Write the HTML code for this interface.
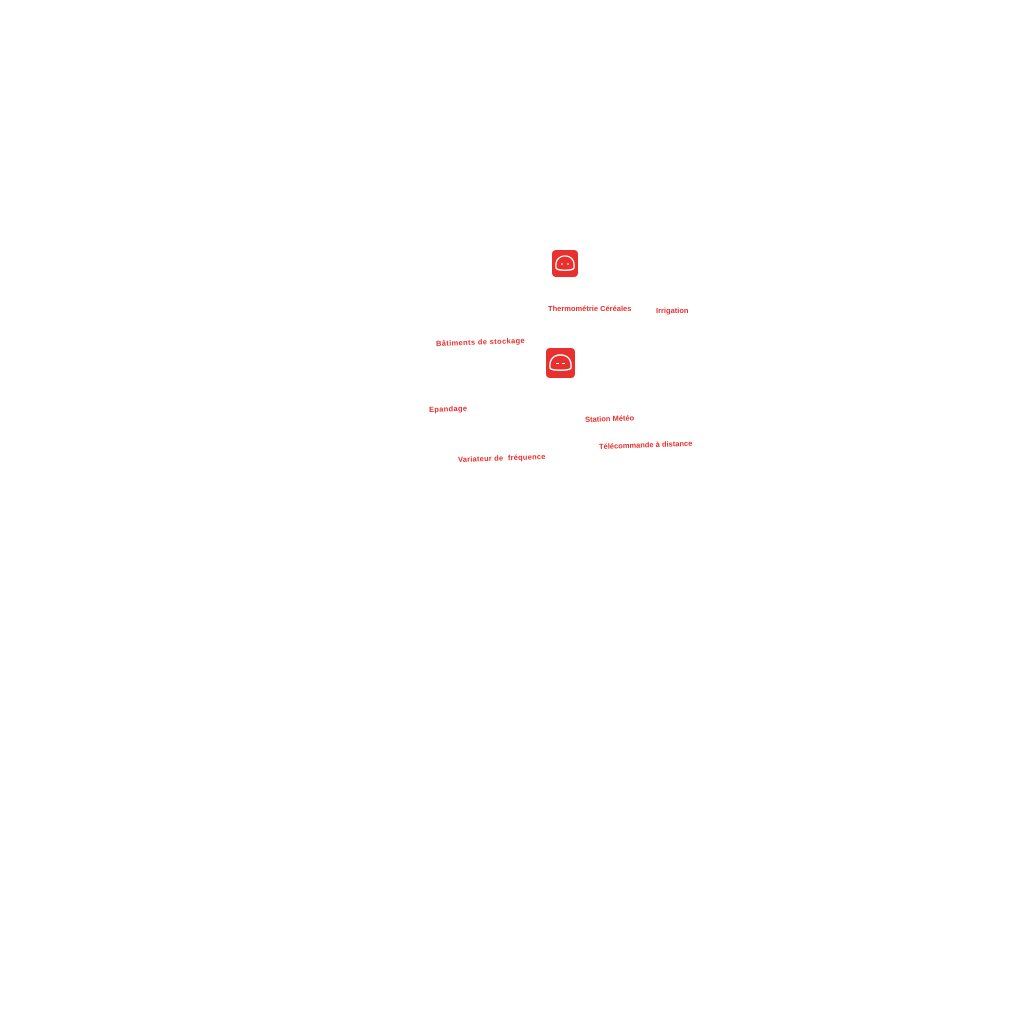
<!DOCTYPE html>
<html><head><meta charset="utf-8"><style>
body{margin:0;width:1024px;height:1024px;background:#fff;position:relative;overflow:hidden;font-family:"Liberation Sans",sans-serif}
.t{position:absolute;color:#e8302f;font-weight:bold;font-size:7.5px;white-space:pre;transform:rotate(-2deg);transform-origin:left center}
.i{position:absolute;background:#e8302f;border-radius:4px}
</style></head><body>
<div class="i" style="left:552px;top:250px;width:26px;height:27px">
<svg width="26" height="27" viewBox="0 0 26 27"><path d="M4,18 C3,9 8,6 13,6 C18,6 23,9 22,18 C21,21 5,21 4,18Z" fill="none" stroke="#fff" stroke-width="1.3"/><line x1="9" y1="14" x2="11" y2="14" stroke="#fff"/><line x1="15" y1="14" x2="17" y2="14" stroke="#fff"/></svg></div>
<div class="i" style="left:546px;top:348px;width:29px;height:30px">
<svg width="29" height="30" viewBox="0 0 29 30"><path d="M4,20 C3,10 9,7 14.5,7 C20,7 26,10 25,20 C24,23 5,23 4,20Z" fill="none" stroke="#fff" stroke-width="1.4"/><line x1="10" y1="15.5" x2="13" y2="15.5" stroke="#fff"/><line x1="16" y1="15.5" x2="19" y2="15.5" stroke="#fff"/></svg></div>
<div class="t" style="left:548px;top:304px;transform:rotate(0deg)">Thermométrie Céréales</div>
<div class="t" style="left:656px;top:306px;transform:rotate(0deg)">Irrigation</div>
<div class="t" style="left:436px;top:339px;letter-spacing:0.35px">Bâtiments de stockage</div>
<div class="t" style="left:429px;top:405px;letter-spacing:0.3px">Epandage</div>
<div class="t" style="left:585px;top:415px">Station Météo</div>
<div class="t" style="left:599px;top:442px">Télécommande à distance</div>
<div class="t" style="left:458px;top:455px;letter-spacing:0.2px">Variateur de  fréquence</div>
</body></html>
